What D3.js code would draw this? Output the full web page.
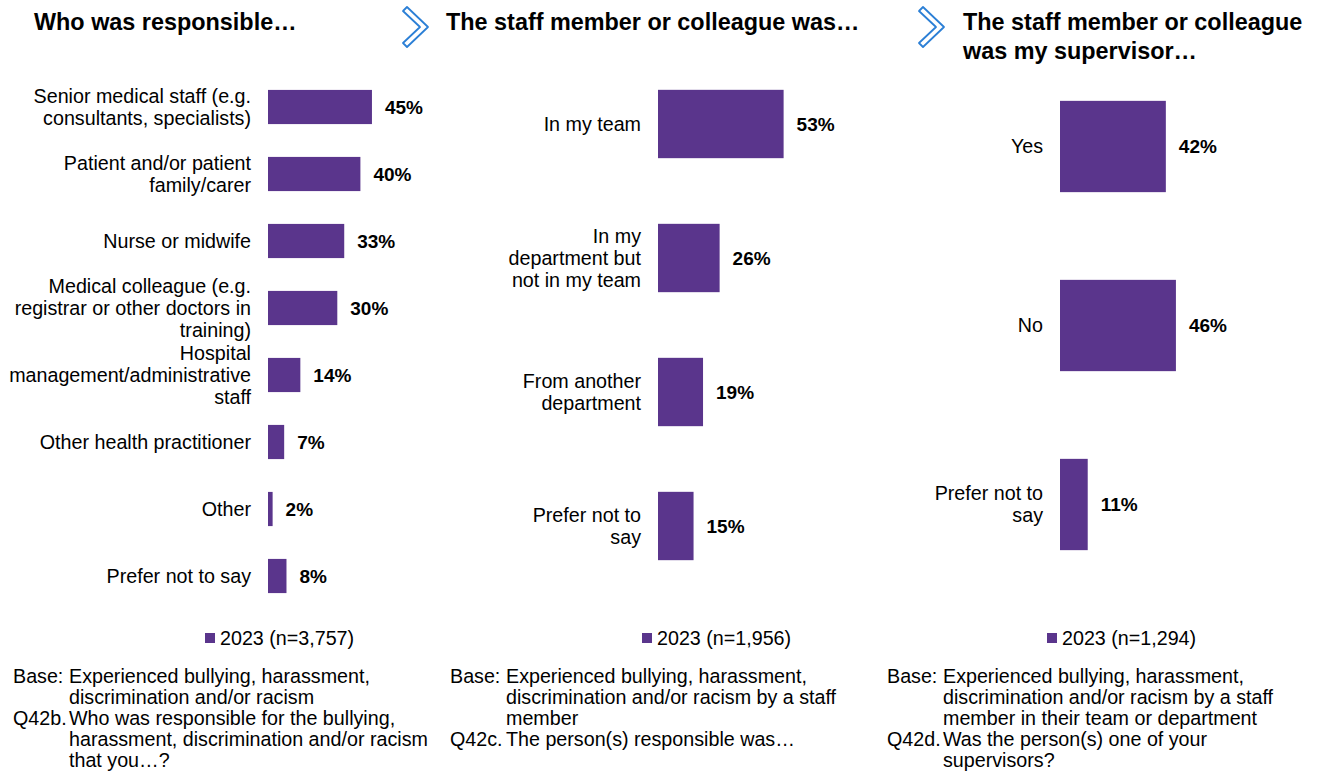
<!DOCTYPE html>
<html>
<head>
<meta charset="utf-8">
<script src="https://cdn.jsdelivr.net/npm/d3@7"></script>
<style>
  body { margin: 0; background: #fff; }
  svg { display: block; font-family: "Liberation Sans", Arial, sans-serif; }
</style>
</head>
<body>
<div id="chart"></div>
<script>
// chart values
const respCategories = [
    "Senior medical staff (e.g.\nconsultants, specialists)",
    "Patient and/or patient\nfamily/carer",
    "Nurse or midwife",
    "Medical colleague (e.g.\nregistrar or other doctors in\ntraining)",
    "Hospital\nmanagement/administrative\nstaff",
    "Other health practitioner",
    "Other",
    "Prefer not to say"
];
const respValues = [45, 40, 33, 30, 14, 7, 2, 8];

const teamCategories = ["In my team", "In my\ndepartment but\nnot in my team", "From another\ndepartment", "Prefer not to\nsay"];
const teamValues = [53, 26, 19, 15];

const supCategories = ["Yes", "No", "Prefer not to\nsay"];
const supValues = [42, 46, 11];

const titles = [
    ["Who was responsible…"],
    ["The staff member or colleague was…"],
    ["The staff member or colleague", "was my supervisor…"]
];
const legendLabels = ["2023 (n=3,757)", "2023 (n=1,956)", "2023 (n=1,294)"];
const notes = [
    [["Base:", "Experienced bullying, harassment,", "discrimination and/or racism"],
     ["Q42b.", "Who was responsible for the bullying,", "harassment, discrimination and/or racism", "that you…?"]],
    [["Base:", "Experienced bullying, harassment,", "discrimination and/or racism by a staff", "member"],
     ["Q42c.", "The person(s) responsible was…"]],
    [["Base:", "Experienced bullying, harassment,", "discrimination and/or racism by a staff", "member in their team or department"],
     ["Q42d.", "Was the person(s) one of your", "supervisors?"]]
];

const width = 1322, height = 771;
const barColor = "#5a358c";
const chevronColor = "#2b7fd6";
const fs = 19.7;

const svg = d3.select("#chart")
    .append("svg")
    .attr("width", width)
    .attr("height", height);

// per panel layout
const panels = [
    { cats: respCategories, vals: respValues, x0: 268, pxPer100: 231, y: [73.5, 609.5],
      titleX: 34, chevronX: null, legendX: 205, noteX: 13 },
    { cats: teamCategories, vals: teamValues, x0: 658, pxPer100: 237, y: [57, 593],
      titleX: 446, chevronX: 403, legendX: 642, noteX: 450 },
    { cats: supCategories, vals: supValues, x0: 1060, pxPer100: 252, y: [57, 594],
      titleX: 963, chevronX: 919, legendX: 1047, noteX: 887 }
];

function drawPanel(p, i) {
    const g = svg.append("g");

    const x = d3.scaleLinear().domain([0, 100]).range([p.x0, p.x0 + p.pxPer100]);
    const y = d3.scaleBand()
        .domain(p.cats)
        .range(p.y)
        .paddingInner(0.49)
        .paddingOuter(0.245);

    const rows = p.cats.map((c, k) => ({ cat: c, val: p.vals[k] }));

    g.selectAll("rect.bar")
        .data(rows)
        .join("rect")
        .attr("class", "bar")
        .attr("x", x(0))
        .attr("y", d => y(d.cat))
        .attr("width", d => x(d.val) - x(0))
        .attr("height", y.bandwidth())
        .attr("fill", barColor);

    g.selectAll("text.val")
        .data(rows)
        .join("text")
        .attr("class", "val")
        .attr("x", d => x(d.val) + 13)
        .attr("y", d => y(d.cat) + y.bandwidth() / 2)
        .attr("dy", "0.35em")
        .attr("font-size", 19)
        .attr("font-weight", "bold")
        .attr("fill", "#000")
        .text(d => d.val + "%");

    // category labels, wrapped as in the original
    const lh = 22;
    const lab = g.selectAll("text.cat")
        .data(rows)
        .join("text")
        .attr("class", "cat")
        .attr("text-anchor", "end")
        .attr("font-size", fs)
        .attr("fill", "#000");
    lab.each(function(d) {
        const lines = d.cat.split("\n");
        const cy = y(d.cat) + y.bandwidth() / 2;
        const top = cy - (lines.length - 1) * lh / 2;
        d3.select(this).selectAll("tspan")
            .data(lines)
            .join("tspan")
            .attr("x", p.x0 - 17)
            .attr("y", (l, j) => top + j * lh)
            .attr("dy", "0.35em")
            .text(l => l);
    });

    // title
    g.append("text")
        .attr("font-size", 23.4)
        .attr("font-weight", "bold")
        .attr("fill", "#000")
        .selectAll("tspan")
        .data(titles[i])
        .join("tspan")
        .attr("x", p.titleX)
        .attr("y", (t, j) => 30 + j * 28.5)
        .text(t => t);

    // chevron
    if (p.chevronX !== null) {
        const cx = p.chevronX, cy = 7;
        const pts = [[0, 4], [4, 0], [25, 20], [4, 40], [0, 36], [17, 20]];
        g.append("path")
            .attr("d", d3.line()(pts.map(q => [cx + q[0], cy + q[1]])) + "Z")
            .attr("fill", "#fff")
            .attr("stroke", chevronColor)
            .attr("stroke-width", 1.8)
            .attr("stroke-linejoin", "round");
    }

    // legend
    g.append("rect")
        .attr("x", p.legendX)
        .attr("y", 633)
        .attr("width", 10)
        .attr("height", 10)
        .attr("fill", barColor);
    g.append("text")
        .attr("x", p.legendX + 15)
        .attr("y", 645)
        .attr("font-size", fs)
        .attr("fill", "#000")
        .text(legendLabels[i]);

    // base / question notes with hanging indent
    let line = 0;
    const note = g.append("g").attr("font-size", fs).attr("fill", "#000");
    notes[i].forEach(block => {
        note.append("text")
            .attr("x", p.noteX)
            .attr("y", 683 + line * 21)
            .text(block[0]);
        block.slice(1).forEach(t => {
            note.append("text")
                .attr("x", p.noteX + 56)
                .attr("y", 683 + line * 21)
                .text(t);
            line++;
        });
    });
}

panels.forEach(drawPanel);
</script>
</body>
</html>
